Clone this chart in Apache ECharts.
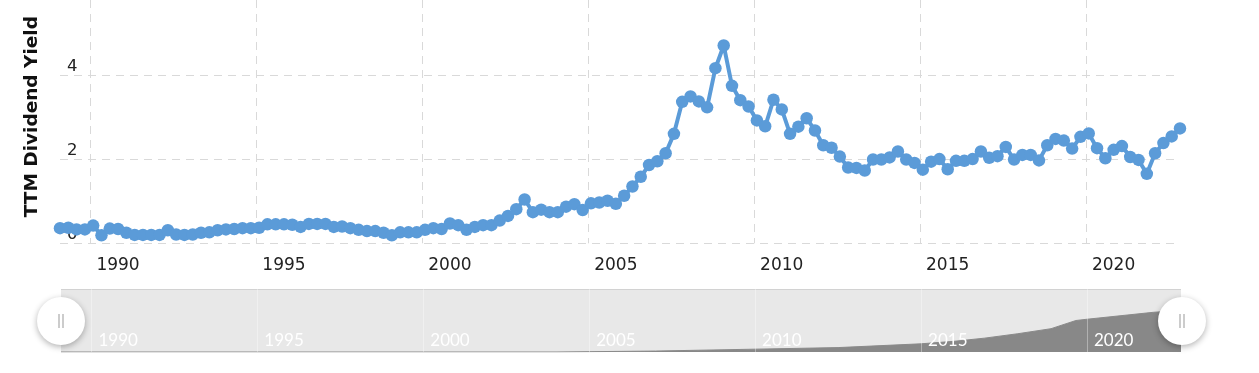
<!DOCTYPE html>
<html>
<head>
<meta charset="utf-8">
<script src="https://cdn.jsdelivr.net/npm/echarts@6/dist/echarts.min.js"></script>
<style>
html,body{margin:0;padding:0;background:#fff;}
#chart{width:1259px;height:373px;}
</style>
</head>
<body>
<div id="chart"></div>
<script>
// Quarterly observation dates (fiscal quarter months)
const dates = [
"1989-02","1989-05","1989-08","1989-11","1990-02","1990-05","1990-08","1990-11",
"1991-02","1991-05","1991-08","1991-11","1992-02","1992-05","1992-08","1992-11",
"1993-02","1993-05","1993-08","1993-11","1994-02","1994-05","1994-08","1994-11",
"1995-02","1995-05","1995-08","1995-11","1996-02","1996-05","1996-08","1996-11",
"1997-02","1997-05","1997-08","1997-11","1998-02","1998-05","1998-08","1998-11",
"1999-02","1999-05","1999-08","1999-11","2000-02","2000-05","2000-08","2000-11",
"2001-02","2001-05","2001-08","2001-11","2002-02","2002-05","2002-08","2002-11",
"2003-02","2003-05","2003-08","2003-11","2004-02","2004-05","2004-08","2004-11",
"2005-02","2005-05","2005-08","2005-11","2006-02","2006-05","2006-08","2006-11",
"2007-02","2007-05","2007-08","2007-11","2008-02","2008-05","2008-08","2008-11",
"2009-02","2009-05","2009-08","2009-11","2010-02","2010-05","2010-08","2010-11",
"2011-02","2011-05","2011-08","2011-11","2012-02","2012-05","2012-08","2012-11",
"2013-02","2013-05","2013-08","2013-11","2014-02","2014-05","2014-08","2014-11",
"2015-02","2015-05","2015-08","2015-11","2016-02","2016-05","2016-08","2016-11",
"2017-02","2017-05","2017-08","2017-11","2018-02","2018-05","2018-08","2018-11",
"2019-02","2019-05","2019-08","2019-11","2020-02","2020-05","2020-08","2020-11",
"2021-02","2021-05","2021-08","2021-11","2022-02","2022-05","2022-08","2022-11"
];
// TTM dividend yield (%)
const yieldValues = [
0.36,0.37,0.33,0.33,0.42,0.19,0.35,0.34,
0.25,0.20,0.20,0.20,0.20,0.31,0.21,0.20,
0.21,0.25,0.26,0.31,0.33,0.34,0.36,0.36,
0.37,0.45,0.45,0.45,0.44,0.39,0.46,0.46,
0.46,0.39,0.40,0.36,0.32,0.29,0.29,0.25,
0.19,0.26,0.26,0.26,0.32,0.36,0.34,0.47,
0.43,0.32,0.39,0.43,0.43,0.54,0.65,0.81,
1.04,0.74,0.80,0.74,0.74,0.87,0.93,0.79,
0.95,0.97,1.01,0.94,1.13,1.35,1.58,1.86,
1.95,2.14,2.60,3.36,3.49,3.37,3.23,4.16,
4.70,3.74,3.40,3.25,2.92,2.78,3.41,3.18,
2.60,2.77,2.97,2.68,2.33,2.27,2.06,1.80,
1.79,1.73,1.99,1.99,2.04,2.18,1.99,1.91,
1.75,1.94,2.00,1.76,1.96,1.96,2.00,2.18,
2.03,2.07,2.29,1.99,2.10,2.10,1.97,2.33,
2.48,2.44,2.25,2.53,2.61,2.26,2.02,2.22,
2.31,2.05,1.98,1.65,2.14,2.38,2.54,2.73
];
// Navigator overview series (relative level, read from the navigator strip)
const navDates = ["1989-02","2004-01","2005-01","2007-01","2010-01","2012-07","2015-01","2016-01","2016-12","2017-12","2018-12","2019-09","2020-01","2022-01","2022-11"];
const navValues = [0,0,0.5,1.5,4.5,7,13,17,22,29,37,50,52,63,66];
const yTicks = [0,2,4];
const xTickYears = [1990,1995,2000,2005,2010,2015,2020];

function toYear(s){
  const p = s.split('-');
  return (+p[0]) + (+p[1]-1)/12;
}
const mainData = dates.map((d,i)=>[toYear(d), yieldValues[i]]);
const navData = navDates.map((d,i)=>[toYear(d), navValues[i]]);
const xMin = toYear(dates[0]);
const xMax = toYear(dates[dates.length-1]);

const blue = '#5b9bd8';
const isTick = v => xTickYears.some(t => Math.abs(t - v) < 1e-6);

const chart = echarts.init(document.getElementById('chart'), null, {renderer:'canvas'});
chart.setOption({
  animation:false,
  backgroundColor:'#fff',
  grid:[
    {left:60, right:79, top:0, height:243.3},
    {left:61, right:78, top:289, height:63, show:true, backgroundColor:'#e8e8e8', borderWidth:0}
  ],
  xAxis:[
    {type:'value', gridIndex:0, min:xMin, max:xMax, splitNumber:7,
     axisLine:{show:false}, axisTick:{show:false},
     splitLine:{show:true, showMinLine:false, showMaxLine:false, lineStyle:{color:'#d9d9d9', type:[8,6], width:1}},
     axisLabel:{show:true, showMinLabel:false, showMaxLabel:false, align:'left', padding:[0,0,0,6], margin:14,
       color:'#222', fontSize:17, fontFamily:'DejaVu Sans',
       formatter: v => isTick(v) ? String(Math.round(v)) : ''}
    },
    {type:'value', gridIndex:1, min:xMin, max:xMax, splitNumber:7, z:5,
     axisLine:{show:false}, axisTick:{show:false},
     splitLine:{show:true, showMinLine:false, showMaxLine:false, lineStyle:{color:'rgba(255,255,255,0.35)', width:1}},
     axisLabel:{show:true, inside:true, showMinLabel:false, showMaxLabel:false, align:'left', verticalAlign:'bottom',
       padding:[0,0,0,7], margin:3, color:'#fff', fontSize:17, fontFamily:'Lato',
       formatter: v => isTick(v) ? String(Math.round(v)) : ''}
    }
  ],
  yAxis:[
    {type:'value', gridIndex:0, min:0, max:5.78, interval:2,
     name:'TTM Dividend Yield', nameLocation:'middle', nameRotate:90, nameGap:18,
     nameTextStyle:{fontSize:18.5, fontWeight:'bold', color:'#111', fontFamily:'DejaVu Sans', padding:[0,0,0,10]},
     axisLine:{show:false}, axisTick:{show:false},
     splitLine:{show:true, showMaxLine:false, lineStyle:{color:'#d9d9d9', type:[8,6], width:1}},
     axisLabel:{inside:true, showMaxLabel:false, align:'left', verticalAlign:'bottom', margin:7,
       color:'#222', fontSize:16.5, fontFamily:'DejaVu Sans',
       formatter: v => yTicks.includes(v) ? String(v) : ''}
    },
    {type:'value', gridIndex:1, min:0, max:100, interval:100,
     axisLine:{show:false}, axisTick:{show:false}, axisLabel:{show:false},
     splitLine:{show:true, showMinLine:false, lineStyle:{color:'#d2d2d2', width:1}}
    }
  ],
  series:[
    {type:'line', xAxisIndex:0, yAxisIndex:0, data:mainData,
     symbol:'circle', symbolSize:12.5, showAllSymbol:true,
     lineStyle:{color:blue, width:4}, itemStyle:{color:blue}, z:3},
    {type:'line', xAxisIndex:1, yAxisIndex:1, data:navData,
     symbol:'none', lineStyle:{color:'#8a8a8a', width:1},
     areaStyle:{color:'#888888', opacity:1}, z:2}
  ],
  graphic:[
    {type:'circle', shape:{cx:61, cy:321, r:24}, style:{fill:'#fff', shadowBlur:6, shadowColor:'rgba(0,0,0,0.3)', shadowOffsetY:2}, z:10},
    {type:'line', shape:{x1:59, y1:314, x2:59, y2:328}, style:{stroke:'#999', lineWidth:1}, z:11},
    {type:'line', shape:{x1:63, y1:314, x2:63, y2:328}, style:{stroke:'#999', lineWidth:1}, z:11},
    {type:'circle', shape:{cx:1182, cy:321, r:24}, style:{fill:'#fff', shadowBlur:6, shadowColor:'rgba(0,0,0,0.3)', shadowOffsetY:2}, z:10},
    {type:'line', shape:{x1:1180, y1:314, x2:1180, y2:328}, style:{stroke:'#999', lineWidth:1}, z:11},
    {type:'line', shape:{x1:1184, y1:314, x2:1184, y2:328}, style:{stroke:'#999', lineWidth:1}, z:11}
  ]
});
</script>
</body>
</html>
